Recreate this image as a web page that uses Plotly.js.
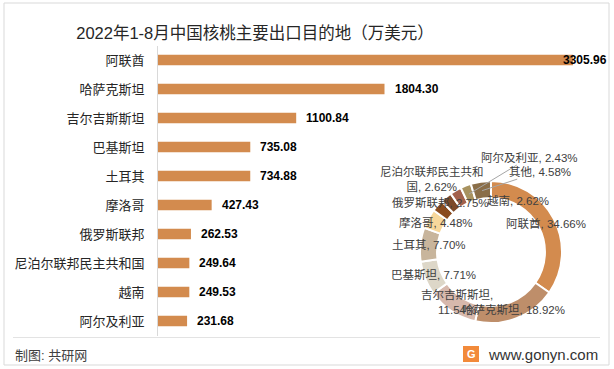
<!DOCTYPE html>
<html>
<head>
<meta charset="utf-8">
<script src="https://cdn.plot.ly/plotly-3.0.1.min.js"></script>
<style>html,body{margin:0;padding:0;background:#fff;}#chart{width:614px;height:369px;}</style>
</head>
<body>
<div id="chart"></div>
<script>
// ---- data ----
const categories = ['阿联酋','哈萨克斯坦','吉尔吉斯斯坦','巴基斯坦','土耳其','摩洛哥','俄罗斯联邦','尼泊尔联邦民主共和国','越南','阿尔及利亚'];
const exportValues = [3305.96,1804.30,1100.84,735.08,734.88,427.43,262.53,249.64,249.53,231.68];
const otherLabel = '其他';
const otherValue = 436.4;
const titleText = '2022年1-8月中国核桃主要出口目的地（万美元）';

// ---- styles ----
const W = 614, H = 369;
const FONT = 'Liberation Sans, Arial, Noto Sans CJK SC, sans-serif';
const barColor = '#D38B4E';
const sliceColors = ['#D38B4E','#BE8E6A','#D7B8AC','#DDD7C8','#C8B59C','#F7D79B','#8A4B1E','#7E4A2A','#A3614C','#A8925F','#8A6E48'];
const px = x => x / W, py = y => 1 - y / H;
const donut = {cx: 491, cy: 252, r: 71, labelR: 62};
// label layout tweaks (pixels) for crowded donut labels
const labelTweaks = {
  2: {br: '吉尔吉斯斯坦,<br>11.54%', dy: -2},
  6: {dx: -4, dy: -9},
  7: {dx: -20, dy: -25, br: true},
  8: {dx: 58, dy: 2},
  9: {arrow: true, ax: 61, ay: -37},
  10: {arrow: true, ax: 58, ay: -19}
};

const pieLabels = categories.concat([otherLabel]);
const pieValues = exportValues.concat([otherValue]);
const total = pieValues.reduce((a, b) => a + b, 0);

const barTrace = {
  type: 'bar', orientation: 'h',
  x: exportValues, y: categories,
  marker: {color: barColor},
  hoverinfo: 'none', xaxis: 'x', yaxis: 'y', showlegend: false
};
const pieTrace = {
  type: 'pie', values: pieValues, labels: pieLabels, sort: false,
  direction: 'clockwise', rotation: 0, hole: 0.76,
  textinfo: 'none', hoverinfo: 'none', showlegend: false,
  marker: {colors: sliceColors, line: {color: '#ffffff', width: 2}},
  domain: {x: [px(donut.cx - donut.r), px(donut.cx + donut.r)], y: [py(donut.cy + donut.r), py(donut.cy - donut.r)]}
};

const annotations = [];
// bar value labels
const maxV = Math.max(...exportValues);
exportValues.forEach((v, i) => {
  annotations.push({
    x: v, y: categories[i], xref: 'x', yref: 'y',
    text: v.toFixed(2), showarrow: false, xanchor: 'left', yanchor: 'middle',
    xshift: v === maxV ? -12 : 8,
    font: {family: FONT, size: 12, color: '#000', weight: 'bold'}
  });
});
// donut labels
let cum = 0;
pieValues.forEach((v, i) => {
  const share = v / total;
  const ang = 2 * Math.PI * (cum + share / 2);
  cum += share;
  const t = labelTweaks[i] || {};
  const bx = donut.cx + donut.labelR * Math.sin(ang);
  const by = donut.cy - donut.labelR * Math.cos(ang);
  const pct = (share * 100).toFixed(2) + '%';
  let text = pieLabels[i] + ', ' + pct;
  if (typeof t.br === 'string') text = t.br;
  else if (t.br) text = pieLabels[i].slice(0, 9) + '<br>' + pieLabels[i].slice(9) + ', ' + pct;
  const a = {
    xref: 'paper', yref: 'paper', text: text,
    font: {family: FONT, size: 11.5, color: '#404040'},
    xanchor: 'center', yanchor: 'middle', align: 'center'
  };
  if (t.arrow) {
    Object.assign(a, {x: px(bx), y: py(by), showarrow: true, arrowhead: 0, arrowwidth: 1,
      arrowcolor: '#A6A6A6', ax: t.ax, ay: t.ay, standoff: 0});
  } else {
    Object.assign(a, {x: px(bx + (t.dx || 0)), y: py(by + (t.dy || 0)), showarrow: false});
  }
  annotations.push(a);
});
// footer texts
annotations.push({xref: 'paper', yref: 'paper', x: px(13), y: py(355), xanchor: 'left', yanchor: 'middle',
  text: '制图: 共研网', showarrow: false, font: {family: FONT, size: 13, color: '#404040'}});
annotations.push({xref: 'paper', yref: 'paper', x: px(486), y: py(354), xanchor: 'left', yanchor: 'middle',
  text: 'www.gonyn.com', showarrow: false, font: {family: FONT, size: 15, color: '#333'}});
annotations.push({xref: 'paper', yref: 'paper', x: px(471), y: py(354), xanchor: 'center', yanchor: 'middle',
  text: 'G', showarrow: false, font: {family: FONT, size: 11, color: '#fff', weight: 'bold'}});

const shapes = [
  {type: 'rect', xref: 'paper', yref: 'paper', x0: px(4), x1: px(609), y0: py(365), y1: py(3),
   line: {color: '#D9D9D9', width: 1}},
  {type: 'line', xref: 'paper', yref: 'paper', x0: px(13), x1: px(600), y0: py(337.5), y1: py(337.5),
   line: {color: '#E3E3E3', width: 1}},
  {type: 'rect', xref: 'paper', yref: 'paper', x0: px(463), x1: px(479), y0: py(362), y1: py(346),
   fillcolor: '#F28A3A', line: {width: 0}, layer: 'below'}
];

const layout = {
  width: W, height: H, margin: {l: 0, r: 0, t: 0, b: 0},
  paper_bgcolor: '#fff', plot_bgcolor: 'rgba(0,0,0,0)',
  title: {text: titleText, xref: 'paper', yref: 'paper', x: px(255), xanchor: 'center', y: py(33), yanchor: 'middle',
          font: {family: FONT, size: 16.5, color: '#262626'}},
  bargap: 0.64,
  xaxis: {domain: [px(158), px(600)], range: [0, 3521], visible: false, fixedrange: true},
  yaxis: {domain: [py(335.5), py(45.5)], type: 'category', autorange: 'reversed',
          showline: true, linecolor: '#D9D9D9', linewidth: 1, ticks: '', showgrid: false, zeroline: false,
          ticklabelstandoff: 10,
          tickfont: {family: FONT, size: 13, color: '#262626'}},
  annotations: annotations, shapes: shapes
};

Plotly.newPlot('chart', [barTrace, pieTrace], layout, {displayModeBar: false, staticPlot: true});
</script>
</body>
</html>
